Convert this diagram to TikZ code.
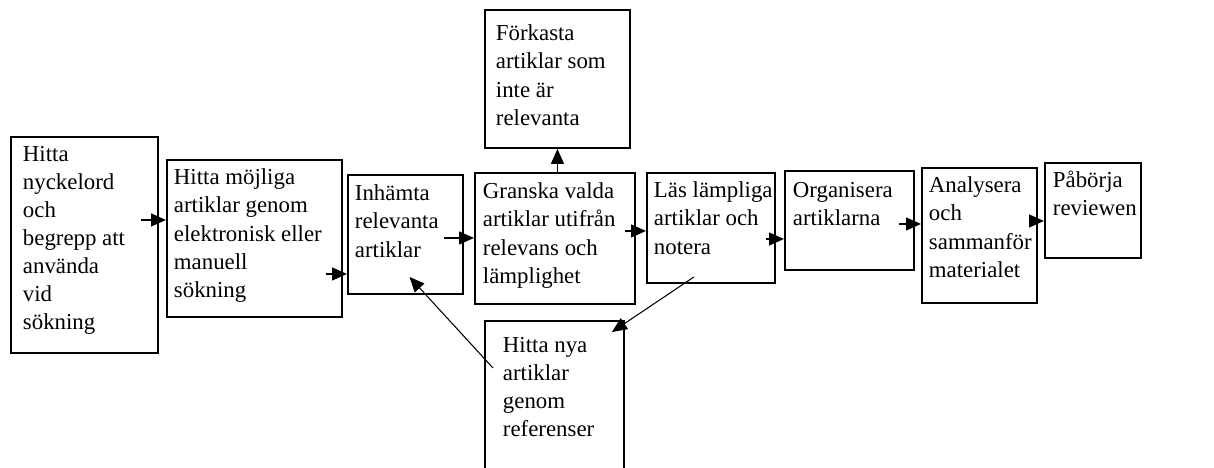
\documentclass[tikz,border=0pt]{standalone}
\usepackage{fontspec}
\setmainfont{Liberation Serif}
\usetikzlibrary{arrows.meta}

\newlength{\px}
\setlength{\px}{0.02cm}
% box text: [left pad][top pad]{width}{height}{lines}, all in px
\NewDocumentCommand{\stagetext}{O{7} O{9} m m m}{%
  \parbox[t][#4\px][t]{#3\px}{\vspace*{#2\px}\leftskip=#1\px\rightskip=-40\px\relax #5}}

\begin{document}
\begin{tikzpicture}[
    x=\px, y=-\px,
    font=\fontsize{13}{16}\selectfont,
    stage/.style={draw=black, line width=1.1pt, anchor=north west, inner sep=0pt},
    arrow/.style={line width=0.8pt, -{Triangle[length=0.3cm, width=0.26cm]}},
    thinarrow/.style={arrow, line width=0.6pt}
]
\useasboundingbox (0,0) rectangle (1214,467);

% Nodes
\node (keywords) [stage] at (10,136) {\stagetext[12][9]{147}{216}{Hitta\\nyckelord\\och\\begrepp att\\använda\\vid\\sökning}};
\node (search) [stage] at (166,159) {\stagetext[7][9]{175}{157}{Hitta möjliga\\artiklar genom\\elektronisk eller\\manuell\\sökning}};
\node (retrieve) [stage] at (347,174) {\stagetext[7][10]{115}{119}{Inhämta\\relevanta\\artiklar}};
\node (review) [stage] at (474,172) {\stagetext[8][10]{160}{131}{Granska valda\\artiklar utifrån\\relevans och\\lämplighet}};
\node (discard) [stage] at (484,9) {\stagetext[11][15]{145}{138}{Förkasta\\artiklar som\\inte är\\relevanta}};
\node (refs) [stage] at (484,320) {\stagetext[18][16]{139}{200}{Hitta nya\\artiklar\\genom\\referenser}};
\node (read) [stage] at (646,172) {\stagetext[7][9]{128}{110}{Läs lämpliga\\artiklar och\\notera}};
\node (organize) [stage] at (784,170) {\stagetext[8][11]{129}{99}{Organisera\\artiklarna}};
\node (analyse) [stage] at (921,167) {\stagetext[7][9]{115}{135}{Analysera\\och\\sammanför\\materialet}};
\node (begin) [stage] at (1044,162) {\stagetext[8][8]{96}{95}{Påbörja\\reviewen}};

% Arrows
\draw [arrow] ([shift={(-18,-25)}]keywords.east) coordinate (a1) -- (a1 -| search.west);
\draw [arrow] ([shift={(-17,35.5)}]search.east) coordinate (a2) -- (a2 -| retrieve.west);
\draw [arrow] ([shift={(-20,3.5)}]retrieve.east) coordinate (a3) -- (a3 -| review.west);
\draw [arrow] ([shift={(-11,-7.5)}]review.east) coordinate (a4) -- (a4 -| read.west);
\draw [arrow] ([shift={(-10,11)}]read.east) coordinate (a5) -- (a5 -| organize.west);
\draw [arrow] ([shift={(-16,3.5)}]organize.east) coordinate (a6) -- (a6 -| analyse.west);
\draw [arrow] ([shift={(-9,-14.5)}]analyse.east) coordinate (a7) -- (a7 -| begin.west);
\draw [arrow] (review.north -| discard.south) -- (discard.south);
\draw [thinarrow] ([shift={(-17,-7)}]read.south) -- ([shift={(-13,12)}]refs.north east);
\draw [thinarrow] ([shift={(9,48)}]refs.north west) -- ([shift={(4,-18)}]retrieve.south);

\end{tikzpicture}
\end{document}
